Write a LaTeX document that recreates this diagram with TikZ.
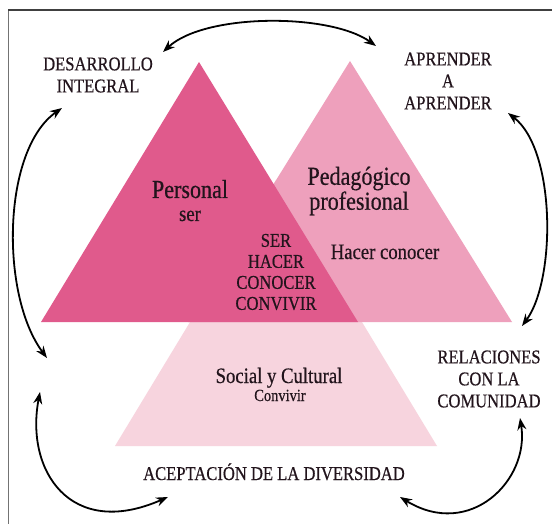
\documentclass[tikz,border=0pt]{standalone}
\usepackage{fontspec}
\setmainfont{Liberation Serif}[FakeStretch=0.85,FakeBold=0.5]
\usetikzlibrary{arrows.meta,positioning}

\definecolor{personalpink}{RGB}{224,90,140}
\definecolor{pedagopink}{RGB}{238,160,188}
\definecolor{socialpink}{RGB}{247,212,222}
\definecolor{inktext}{RGB}{34,20,28}

\tikzset{
  caps/.style={font=\fontsize{19.5}{22}\selectfont, align=center, inner sep=0pt, text=inktext},
  title/.style={font=\fontsize{26}{21}\selectfont, align=center, inner sep=0pt, text=inktext},
  sub/.style={font=\fontsize{22}{22}\selectfont, inner sep=0pt, text=inktext},
  cycle arrow/.style={<->, line width=1.8pt},
}

\begin{document}
\begin{tikzpicture}[x=1pt,y=-1pt,>={Stealth[length=12pt,width=9pt]}]
  \useasboundingbox (0,0) rectangle (552,524);
  \fill[white] (0,0) rectangle (552,524);
  % page edge
  \draw[black!55, line width=1pt] (8,524) -- (8,10);
  \draw[black!75, line width=1.6pt] (8,10) -- (552,10);

  % the three triangles, back to front
  \fill[socialpink]   (115,446) -- (437,446) -- (276,180) -- cycle;
  \fill[pedagopink]   (188,322) -- (512,322) -- (350,61) -- cycle;
  \fill[personalpink] (41,322) -- (358,322) -- (199,62) -- cycle;

  % outer labels
  \node[caps] (desarrollo) at (98,75)  {DESARROLLO\\INTEGRAL};
  \node[caps] (aprender)   at (448,81) {APRENDER\\A\\APRENDER};
  \node[caps] (relaciones) at (489,379) {RELACIONES\\CON LA\\COMUNIDAD};
  \node[caps, anchor=base] (diversidad) at (274,480) {ACEPTACIÓN DE LA DIVERSIDAD};

  % inner labels
  \node[title, anchor=base] (personal) at (190,198) {Personal};
  \node[sub, anchor=base] (ser) at (190,221) {ser};
  \node[title] (pedagogico) at (359,191) {Pedagógico\\profesional};
  \node[sub, anchor=base] (hacer) at (385,259) {Hacer conocer};
  \node[caps, font=\fontsize{19.5}{21}\selectfont] (todos) at (276,272) {SER\\HACER\\CONOCER\\CONVIVIR};
  \node[sub, anchor=base] (social) at (279,383) {Social y Cultural};
  \node[sub, anchor=base, font=\fontsize{17}{17}\selectfont] (convivir) at (280,401) {Convivir};

  % free ends of the loops
  \coordinate (dtop)  at (163,52);
  \coordinate (atop)  at (376,46);
  \coordinate (abot)  at (508,113);
  \coordinate (rtop)  at (522,326);
  \coordinate (rbot)  at (520,418);
  \coordinate (vright) at (400,497);
  \coordinate (vleft) at (168,497);
  \coordinate (lbot)  at (40,392);
  \coordinate (ltop)  at (47,358);
  \coordinate (dbot)  at (62,108);

  \draw[cycle arrow] (dtop) .. controls (205,13) and (330,13) .. (atop);
  \draw[cycle arrow] (abot) .. controls (556,150) and (556,280) .. (rtop);
  \draw[cycle arrow] (rbot) .. controls (530,480) and (470,540) .. (vright);
  \draw[cycle arrow] (vleft) .. controls (70,540) and (25,470) .. (lbot);
  \draw[cycle arrow] (ltop) .. controls (0,295) and (2,150) .. (dbot);
\end{tikzpicture}
\end{document}
